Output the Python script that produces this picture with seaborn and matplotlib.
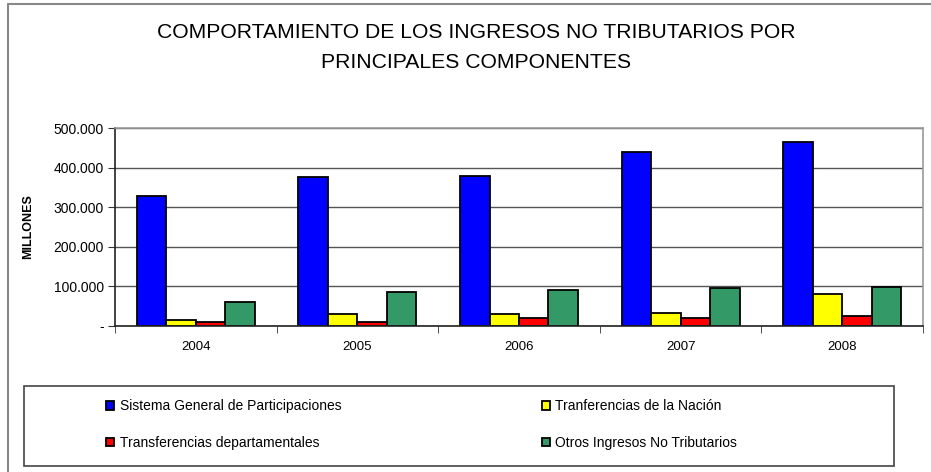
import pandas as pd
import seaborn as sns
import matplotlib.pyplot as plt
from matplotlib.lines import Line2D
from matplotlib.patches import Rectangle
from matplotlib.ticker import FuncFormatter, MultipleLocator

years = ['2004', '2005', '2006', '2007', '2008']
componentes = ['Sistema General de Participaciones', 'Tranferencias de la Nación',
               'Transferencias departamentales', 'Otros Ingresos No Tributarios']
sgp = [328000, 377000, 378000, 439000, 465000]
nacion = [15000, 30000, 30000, 34000, 81000]
dept = [9000, 10000, 20000, 20000, 25000]
otros = [61000, 85000, 91000, 95000, 99000]
colores = ['#0000FF', '#FFFF00', '#FF0000', '#339966']

df = pd.DataFrame({
    'Año': years * 4,
    'Componente': [c for c in componentes for _ in years],
    'Valor': sgp + nacion + dept + otros,
})

sns.set_style('white')
plt.rcParams['font.family'] = ['Liberation Sans', 'DejaVu Sans']
plt.rcParams['text.color'] = 'black'

W, H = 931, 472
fig = plt.figure(figsize=(W / 100, H / 100), dpi=100)
ax = fig.add_axes([115 / W, 1 - 326 / H, (923 - 115) / W, (326 - 128) / H])

sns.barplot(data=df, x='Año', y='Valor', hue='Componente', hue_order=componentes,
            palette=colores, edgecolor='black', linewidth=1.3, width=0.73, gap=0,
            saturation=1, ax=ax)

ax.set_ylim(0, 500000)
ax.set_xlim(-0.5, 4.5)
ax.yaxis.set_major_locator(MultipleLocator(100000))
ax.yaxis.set_major_formatter(FuncFormatter(
    lambda v, p: '-' if v == 0 else f'{v:,.0f}'.replace(',', '.')))
ax.set_axisbelow(True)
ax.yaxis.grid(True, color='#555555', linewidth=1)
ax.xaxis.grid(False)
ax.set_xlabel('')
ax.set_ylabel('')

ax.set_xticks([-0.5, 0.5, 1.5, 2.5, 3.5, 4.5], minor=True)
ax.tick_params(axis='x', which='major', length=0, pad=11, labelsize=9.5, labelcolor='black')
ax.tick_params(axis='x', which='minor', length=5, direction='out', color='#333333', bottom=True)
ax.tick_params(axis='y', length=5, direction='out', color='#333333', left=True,
               labelsize=10, labelcolor='black', pad=3)
for s in ['left', 'bottom']:
    ax.spines[s].set_color('#222222')
    ax.spines[s].set_linewidth(1.2)
for s in ['top', 'right']:
    ax.spines[s].set_color('#999999')
    ax.spines[s].set_linewidth(1.2)

handles, labels = ax.get_legend_handles_labels()
ax.get_legend().remove()
orden = [0, 2, 1, 3]
fig.legend([handles[i] for i in orden], [labels[i] for i in orden], ncol=2,
           loc='upper left', bbox_to_anchor=(106 / W, 1 - 399 / H), frameon=False,
           fontsize=10, handlelength=0.6, handleheight=0.6, handletextpad=0.4,
           labelspacing=1.65, columnspacing=14.4, borderpad=0, borderaxespad=0)
fig.patches.append(Rectangle((24 / W, 1 - 466 / H), (894 - 24) / W, (466 - 386) / H,
                             transform=fig.transFigure, fill=False,
                             edgecolor='#444444', linewidth=1.2))

# outer frame of the chart
fig.lines.append(Line2D([8 / W, 1], [1 - 4 / H, 1 - 4 / H], transform=fig.transFigure,
                        color='#888888', linewidth=1.5))
fig.lines.append(Line2D([8 / W, 8 / W], [0, 1 - 4 / H], transform=fig.transFigure,
                        color='#888888', linewidth=1.5))

fig.text(476 / W, 1 - 33 / H, 'COMPORTAMIENTO DE LOS INGRESOS NO TRIBUTARIOS POR',
         ha='center', va='center', fontsize=15.2)
fig.text(476 / W, 1 - 62 / H, 'PRINCIPALES COMPONENTES', ha='center', va='center',
         fontsize=15.2)
fig.text(28 / W, 1 - 227 / H, 'MILLONES', rotation=90, ha='center', va='center',
         fontsize=9, fontweight='heavy')

fig.savefig('out.png', dpi=100)
